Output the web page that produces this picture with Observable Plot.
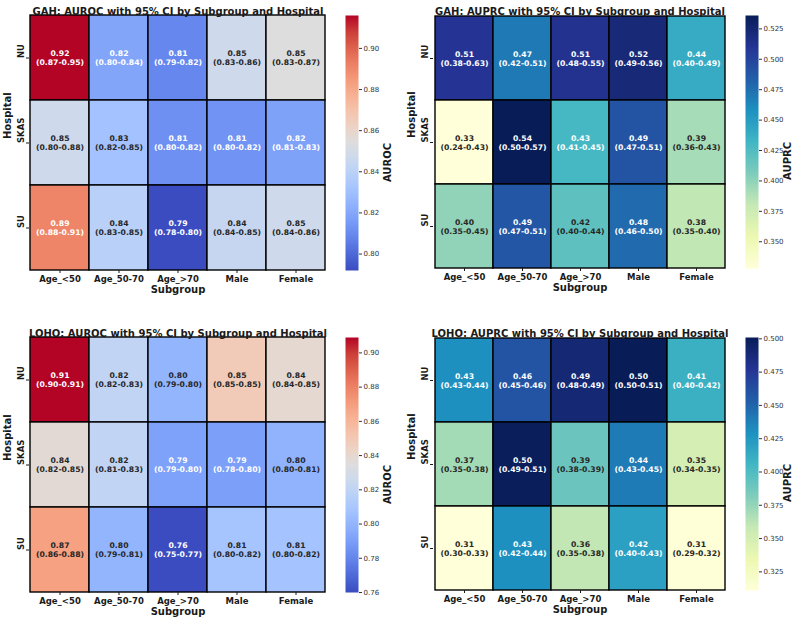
<!DOCTYPE html>
<html><head><meta charset="utf-8">
<script src="https://cdn.jsdelivr.net/npm/d3@7"></script>
<script src="https://cdn.jsdelivr.net/npm/@observablehq/plot@0.6"></script>
<style>
body{margin:0;background:#fff;}
#root{position:relative;width:796px;height:622px;overflow:hidden;background:#fff;}
#root > div{position:absolute;}
#root svg{overflow:visible;max-width:none !important;}
</style></head><body><div id="root"></div>
<script>
// ---------- data ----------
const subgroups = ["Age_<50", "Age_50-70", "Age_>70", "Male", "Female"];
const hospitals = ["NU", "SKAS", "SU"];

// GAH AUROC (rows: NU, SKAS, SU)
const gahAurocValue = [[0.916, 0.819, 0.809, 0.847, 0.854], [0.847, 0.831, 0.812, 0.813, 0.818], [0.891, 0.839, 0.792, 0.844, 0.847]];
const gahAurocLower = [[0.87, 0.80, 0.79, 0.83, 0.83], [0.80, 0.82, 0.80, 0.80, 0.81], [0.88, 0.83, 0.78, 0.84, 0.84]];
const gahAurocUpper = [[0.95, 0.84, 0.82, 0.86, 0.87], [0.88, 0.85, 0.82, 0.82, 0.83], [0.91, 0.85, 0.80, 0.85, 0.86]];

// GAH AUPRC
const gahAuprcValue = [[0.510, 0.470, 0.512, 0.522, 0.440], [0.328, 0.536, 0.430, 0.490, 0.392], [0.400, 0.489, 0.420, 0.478, 0.382]];
const gahAuprcLower = [[0.38, 0.42, 0.48, 0.49, 0.40], [0.24, 0.50, 0.41, 0.47, 0.36], [0.35, 0.47, 0.40, 0.46, 0.35]];
const gahAuprcUpper = [[0.63, 0.51, 0.55, 0.56, 0.49], [0.43, 0.57, 0.45, 0.51, 0.43], [0.45, 0.51, 0.44, 0.50, 0.40]];

// LOHO AUROC
const lohoAurocValue = [[0.909, 0.820, 0.800, 0.849, 0.839], [0.838, 0.820, 0.791, 0.790, 0.799], [0.869, 0.800, 0.760, 0.808, 0.807]];
const lohoAurocLower = [[0.90, 0.82, 0.79, 0.85, 0.84], [0.82, 0.81, 0.79, 0.78, 0.80], [0.86, 0.79, 0.75, 0.80, 0.80]];
const lohoAurocUpper = [[0.91, 0.83, 0.80, 0.85, 0.85], [0.85, 0.83, 0.80, 0.80, 0.81], [0.88, 0.81, 0.77, 0.82, 0.82]];

// LOHO AUPRC
const lohoAuprcValue = [[0.430, 0.460, 0.490, 0.501, 0.410], [0.370, 0.500, 0.390, 0.440, 0.350], [0.311, 0.430, 0.360, 0.420, 0.312]];
const lohoAuprcLower = [[0.43, 0.45, 0.48, 0.50, 0.40], [0.35, 0.49, 0.38, 0.43, 0.34], [0.30, 0.42, 0.35, 0.40, 0.29]];
const lohoAuprcUpper = [[0.44, 0.46, 0.49, 0.51, 0.42], [0.38, 0.51, 0.39, 0.45, 0.35], [0.33, 0.44, 0.38, 0.43, 0.32]];

// colorbar tick labels
const gahAurocTicks = [0.80, 0.82, 0.84, 0.86, 0.88, 0.90];
const gahAuprcTicks = [0.350, 0.375, 0.400, 0.425, 0.450, 0.475, 0.500, 0.525];
const lohoAurocTicks = [0.76, 0.78, 0.80, 0.82, 0.84, 0.86, 0.88, 0.90];
const lohoAuprcTicks = [0.325, 0.350, 0.375, 0.400, 0.425, 0.450, 0.475, 0.500];

// ---------- colormaps (matplotlib coolwarm / YlGnBu) ----------
const coolwarmStops = ["#3b4cc0", "#4d68d7", "#6282ea", "#779af7", "#8db0fe", "#a3c2ff", "#b8d0f9", "#ccd9ee",
  "#dddddd", "#ecd3c5", "#f5c4ad", "#f7b194", "#f49a7b", "#ec7f63", "#de604d", "#cb3e38", "#b40426"];
const ylgnbuStops = ["#ffffd9", "#edf8b1", "#c7e9b4", "#7fcdbb", "#41b6c4", "#1d91c0", "#225ea8", "#253494", "#081d58"];
const coolwarm = d3.piecewise(d3.interpolateRgb, coolwarmStops);
const ylgnbu = d3.piecewise(d3.interpolateRgb, ylgnbuStops);

const FONT = '"DejaVu Sans", sans-serif';
const f2 = d3.format(".2f");

function lum(c) {
  const {r, g, b} = d3.rgb(c);
  const lin = v => { v /= 255; return v <= 0.03928 ? v / 12.92 : Math.pow((v + 0.055) / 1.055, 2.4); };
  return 0.2126 * lin(r) + 0.7152 * lin(g) + 0.0722 * lin(b);
}

function panel(cfg) {
  const {title, values, lower, upper, cmap, ticks, tickFmt, label, g} = cfg;
  const data = [];
  hospitals.forEach((h, i) => subgroups.forEach((s, j) =>
    data.push({h, s, v: values[i][j], lo: lower[i][j], hi: upper[i][j]})));
  const domain = d3.extent(data, d => d.v);
  const colorOpts = {type: "linear", domain, interpolate: cmap};
  const cs = Plot.scale({color: colorOpts});
  const mL = 30, mT = 15, mR = 10, mB = 40;
  const chart = Plot.plot({
    width: mL + g.w + mR, height: mT + g.h + mB,
    marginLeft: mL, marginTop: mT, marginRight: mR, marginBottom: mB,
    x: {domain: subgroups, padding: 0, label: null},
    y: {domain: hospitals, padding: 0, label: null},
    color: colorOpts,
    style: {fontFamily: FONT, fontWeight: "bold", fontSize: "8.5px", color: "#1a1a1a", background: "transparent"},
    marks: [
      Plot.cell(data, {x: "s", y: "h", fill: "v", stroke: "black", strokeWidth: 1.4}),
      Plot.text(data, {x: "s", y: "h",
        text: d => f2(d.v) + "\n(" + f2(d.lo) + "-" + f2(d.hi) + ")",
        fill: d => lum(cs.apply(d.v)) > 0.408 ? "#262626" : "white",
        fontSize: 7.7, lineHeight: 1.18}),
      Plot.axisX({tickSize: 3, tickPadding: 2, label: null}),
      Plot.axisY({tickSize: 3, tickFormat: () => "", label: null}),
      Plot.text(hospitals, {y: d => d, frameAnchor: "left", dx: -8, rotate: -90, fontSize: 8.5}),
      Plot.text(["Hospital"], {frameAnchor: "left", dx: -22, dy: -4, rotate: -90, fontSize: 10}),
      Plot.text(["Subgroup"], {frameAnchor: "bottom", dy: 22, fontSize: 10}),
      Plot.text([title], {frameAnchor: "top", dy: -8, fontSize: 10})
    ]
  });
  const cb = Plot.plot({
    width: 13 + 50, height: mT + g.h + mB,
    marginLeft: 0, marginRight: 50, marginTop: mT, marginBottom: mB,
    x: {domain: [0, 1], axis: null},
    y: {domain, axis: null},
    color: colorOpts,
    style: {fontFamily: FONT, fontSize: "7px", color: "#333", background: "transparent"},
    marks: [
      Plot.raster({x1: 0, x2: 1, y1: domain[0], y2: domain[1], width: 1, height: 256,
        fill: (x, y) => y, imageRendering: "auto"}),
      Plot.axisY({anchor: "right", ticks, tickFormat: d3.format(tickFmt), tickSize: 3, tickPadding: 2, label: null}),
      Plot.text([label], {frameAnchor: "right", dx: 29, rotate: -90, fontSize: 10, fontWeight: "bold", fill: "#1a1a1a"})
    ]
  });
  const root = document.getElementById("root");
  const d1 = document.createElement("div");
  d1.style.left = (g.x - mL) + "px"; d1.style.top = (g.y - mT) + "px";
  d1.style.width = (mL + g.w + mR) + "px";
  d1.appendChild(chart); root.appendChild(d1);
  const d2 = document.createElement("div");
  d2.style.left = g.cbx + "px"; d2.style.top = (g.y - mT) + "px";
  d2.style.width = "63px";
  d2.appendChild(cb); root.appendChild(d2);
}

panel({title: "GAH: AUROC with 95% CI by Subgroup and Hospital", values: gahAurocValue, lower: gahAurocLower, upper: gahAurocUpper,
  cmap: coolwarm, ticks: gahAurocTicks, tickFmt: ".2f", label: "AUROC", g: {x: 29, y: 15, w: 297, h: 255, cbx: 345}});
panel({title: "GAH: AUPRC with 95% CI by Subgroup and Hospital", values: gahAuprcValue, lower: gahAuprcLower, upper: gahAuprcUpper,
  cmap: ylgnbu, ticks: gahAuprcTicks, tickFmt: ".3f", label: "AUPRC", g: {x: 433, y: 15, w: 293, h: 253, cbx: 745}});
panel({title: "LOHO: AUROC with 95% CI by Subgroup and Hospital", values: lohoAurocValue, lower: lohoAurocLower, upper: lohoAurocUpper,
  cmap: coolwarm, ticks: lohoAurocTicks, tickFmt: ".2f", label: "AUROC", g: {x: 29, y: 337, w: 297, h: 255, cbx: 345}});
panel({title: "LOHO: AUPRC with 95% CI by Subgroup and Hospital", values: lohoAuprcValue, lower: lohoAuprcLower, upper: lohoAuprcUpper,
  cmap: ylgnbu, ticks: lohoAuprcTicks, tickFmt: ".3f", label: "AUPRC", g: {x: 433, y: 337, w: 293, h: 253, cbx: 745}});
</script></body></html>
